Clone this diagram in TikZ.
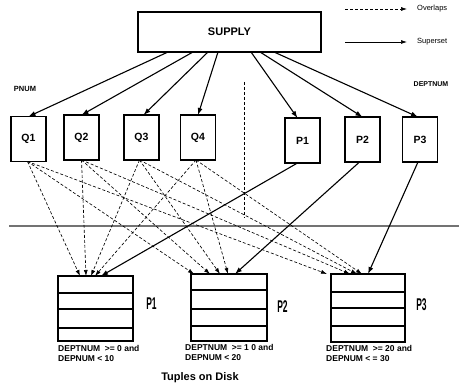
\documentclass[tikz,border=0pt]{standalone}
\usepackage{fontspec}
\setmainfont{Liberation Sans}
\usetikzlibrary{arrows.meta}
\begin{document}
\begin{tikzpicture}[x=1pt,y=-1pt,
  box/.style={draw,line width=1.3pt,minimum width=35pt,minimum height=45pt,
    inner sep=0pt,outer sep=0pt,font=\bfseries\fontsize{10.5}{10.5}\selectfont},
  disk/.style={draw,line width=1.3pt,inner sep=0pt,outer sep=0pt},
  row/.style={line width=1.1pt},
  sup/.style={line width=1.1pt,-{Latex[length=7pt,width=5pt]}},
  ovl/.style={line width=0.65pt,dash pattern=on 3pt off 2pt,-{Latex[length=6pt,width=4pt]}},
  lbl/.style={font=\bfseries\fontsize{8.5}{10}\selectfont,inner sep=0pt,align=left},
  tag/.style={font=\bfseries\fontsize{7.5}{7.5}\selectfont,inner sep=0pt},
  big/.style={font=\bfseries\fontsize{17}{17}\selectfont,inner sep=0pt},
]
\useasboundingbox (0,0) rectangle (459,387);

% legend
\coordinate (l1a) at (345,9);  \coordinate (l1b) at (407,9);
\coordinate (l2a) at (345,42); \coordinate (l2b) at (407,42);
\draw[ovl] (l1a) -- (l1b);
\draw[line width=0.7pt,-{Latex[length=6pt,width=4pt]}] (l2a) -- (l2b);
\node[anchor=west,inner sep=0pt,font=\fontsize{7.5}{7.5}\selectfont] (lov) at (417,9) {Overlaps};
\node[anchor=west,inner sep=0pt,font=\fontsize{7.5}{7.5}\selectfont] (lsu) at (417,42) {Superset};

% relation
\node[draw,line width=1.3pt,minimum width=183pt,minimum height=40pt,inner sep=0pt,outer sep=0pt,
  font=\bfseries\fontsize{11}{11}\selectfont] (S) at (229.5,32) {SUPPLY};

\node[tag] (pnum) at (25,89) {PNUM};
\node[tag,font=\bfseries\fontsize{7}{7}\selectfont] (dnum) at (431,84) {DEPTNUM};

% fragments on PNUM
\node[box] (Q1) at (28.5,139) {Q1};
\node[box] (Q2) at (81.5,137.5) {Q2};
\node[box] (Q3) at (141.5,137.5) {Q3};
\node[box] (Q4) at (198,137.5) {Q4};
% fragments on DEPTNUM
\node[box] (P1) at (302.5,140.5) {P1};
\node[box] (P2) at (362.5,139.5) {P2};
\node[box] (P3) at (420,139.5) {P3};

% separators
\coordinate (va) at (244,82); \coordinate (vb) at (244,218);
\draw[line width=0.6pt,dash pattern=on 3pt off 2pt] (va) -- (vb);
\coordinate (ha) at (9,226); \coordinate (hb) at (459,226);
\draw[line width=1.3pt,black!55] (ha) -- (hb);

% disk partitions
\node[disk,minimum width=75pt,minimum height=65pt] (D1) at (95.5,308.5) {};
\node[disk,minimum width=76pt,minimum height=67pt] (D2) at (229,307.5) {};
\node[disk,minimum width=74pt,minimum height=68pt] (D3) at (368,308) {};
\foreach \d/\a/\b/\c in {D1/17/33/52, D2/16/35/52, D3/18/34/52}{
  \draw[row] ([yshift=-\a pt]\d.north west) -- ([yshift=-\a pt]\d.north east);
  \draw[row] ([yshift=-\b pt]\d.north west) -- ([yshift=-\b pt]\d.north east);
  \draw[row] ([yshift=-\c pt]\d.north west) -- ([yshift=-\c pt]\d.north east);
}
\node[big] (t1) at (151.5,304) {\scalebox{0.5}[1]{P1}};
\node[big] (t2) at (282.5,307) {\scalebox{0.5}[1]{P2}};
\node[big] (t3) at (421.5,305) {\scalebox{0.5}[1]{P3}};

\node[lbl,anchor=north west] (c1) at (58,345) {DEPTNUM\ \ >= 0 and\\DEPNUM < 10};
\node[lbl,anchor=north west] (c2) at (185,344) {DEPTNUM\ \ >= 1 0 and\\DEPNUM < 20};
\node[lbl,anchor=north west] (c3) at (326,345) {DEPTNUM\ \ >= 20 and\\DEPNUM < = 30};
\node[inner sep=0pt,font=\bfseries\fontsize{11}{11}\selectfont] (tod) at (200,378) {Tuples on Disk};

% SUPPLY is a superset of each fragment
\draw[sup] ([xshift=30pt]S.south west) -- (Q1.north);
\draw[sup] ([xshift=55pt]S.south west) -- (Q2.north);
\draw[sup] ([xshift=70pt]S.south west) -- ([xshift=2pt]Q3.north);
\draw[sup] ([xshift=80pt]S.south west) -- (Q4.north);
\draw[sup] ([xshift=113pt]S.south west) -- ([xshift=-5pt]P1.north);
\draw[sup] ([xshift=122pt]S.south west) -- (P2.north);
\draw[sup] ([xshift=136pt]S.south west) -- ([xshift=-2pt]P3.north);

% PNUM fragments overlap every disk partition
\draw[ovl] ([xshift=-1pt]Q1.south) -- ([xshift=22pt]D1.north west);
\draw[ovl] ([xshift=-1pt]Q1.south) -- ([xshift=3pt]D2.north west);
\draw[ovl] ([xshift=-1pt]Q1.south) -- ([xshift=-4pt]D3.north west);
\draw[ovl] (Q2.south) -- ([xshift=28pt]D1.north west);
\draw[ovl] (Q2.south) -- ([xshift=19pt]D2.north west);
\draw[ovl] (Q2.south) -- ([xshift=19pt]D3.north west);
\draw[ovl] ([xshift=-2pt]Q3.south) -- ([xshift=33pt]D1.north west);
\draw[ovl] ([xshift=-2pt]Q3.south) -- ([xshift=29pt]D2.north west);
\draw[ovl] ([xshift=-2pt]Q3.south) -- ([xshift=26pt]D3.north west);
\draw[ovl] ([xshift=-2pt]Q4.south) -- ([xshift=37pt]D1.north west);
\draw[ovl] ([xshift=-2pt]Q4.south) -- ([xshift=37pt]D2.north west);
\draw[ovl] ([xshift=-2pt]Q4.south) -- ([xshift=31pt]D3.north west);

% DEPTNUM fragments are supersets of the disk partitions
\draw[sup] ([xshift=-5pt]P1.south) -- ([xshift=43pt]D1.north west);
\draw[sup] ([xshift=-3pt]P2.south) -- ([xshift=44pt]D2.north west);
\draw[sup] ([xshift=-2pt]P3.south) -- ([xshift=37pt]D3.north west);
\end{tikzpicture}
\end{document}
